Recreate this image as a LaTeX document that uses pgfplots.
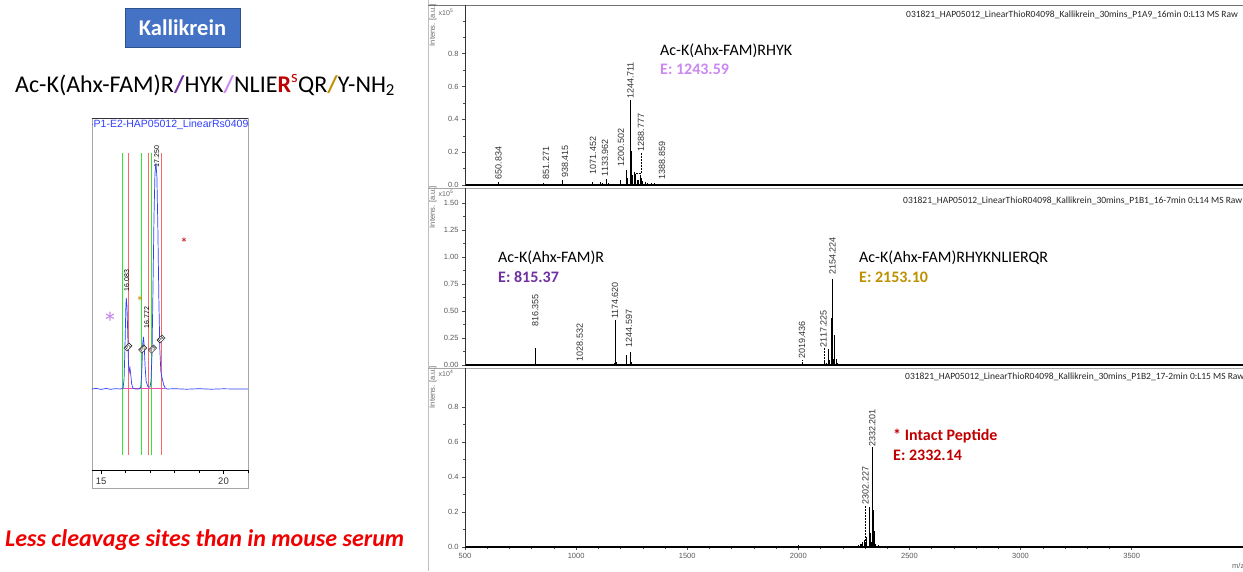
\documentclass[border=0pt]{standalone}
\usepackage{fontspec}
\setmainfont{Carlito}
\newfontfamily\tickfont{Liberation Sans}
\usepackage{pgfplots}
\pgfplotsset{compat=1.18}
\definecolor{kblue}{HTML}{4472C4}
\definecolor{kborder}{HTML}{2F528F}
\definecolor{purp}{HTML}{7030A0}
\definecolor{lvio}{RGB}{204,136,240}
\definecolor{gold}{HTML}{BF9000}
\definecolor{dred}{HTML}{C00000}
\definecolor{bred}{HTML}{F00000}
\definecolor{chromblue}{HTML}{2F3FFF}
\definecolor{lgreen}{HTML}{33E633}
\definecolor{lred}{HTML}{FF6666}

\pgfplotsset{ms/.style={
  anchor=south west, scale only axis, width=778pt,
  xmin=500, xmax=4001, ymin=0, clip=false,
  axis lines*=left,
  axis line style={black!80, line width=0.6pt},
  x axis line style={black, line width=1.3pt},
  tick align=outside, tick pos=left,
  major tick length=3pt, minor tick length=2pt,
  tick style={black!70, line width=0.5pt},
  ticklabel style={font=\fontsize{7.5}{8}\selectfont\tickfont, text=black!65},
  /pgf/number format/assume math mode=true,
  xtick=\empty,
}}
\newcommand{\pk}[2]{\node[rotate=90, anchor=west, inner sep=0.5pt, font=\fontsize{9}{9}\selectfont\tickfont, text=black!80] at (axis cs:#1) {#2};}

\begin{document}
\begin{tikzpicture}
\fill[white] (0,0) rectangle (1243pt,-571pt);
\path[use as bounding box] (0,0) rectangle (1243pt,-571pt);

% ---------------- left part
\node[fill=kblue, draw=kborder, line width=0.8pt, minimum width=115pt, minimum height=39pt,
      text=white, font=\bfseries\fontsize{22.5}{24}\selectfont] at (182.5pt,-27.5pt) {Kallikrein};
\node[anchor=base west, inner sep=0pt, font=\fontsize{24}{28}\selectfont] at (15pt,-92pt)
 {Ac-K(Ahx-FAM)R{\color{purp}\textbf{/}}HYK{\color{lvio}\textbf{/}}NLIE{\color{dred}\textbf{R}\textsuperscript{s}}QR{\color{gold}\textbf{/}}Y-NH\textsubscript{2}};
\node[anchor=base west, inner sep=0pt, text=bred, font=\bfseries\itshape\fontsize{24}{28}\selectfont] at (5pt,-546pt)
 {Less cleavage sites than in mouse serum};

% chromatogram box
\draw[black!35, line width=0.6pt] (92pt,-118pt) rectangle (248pt,-488pt);
\draw[black!80, line width=1pt] (92pt,-118pt) -- (248pt,-118pt);
\begin{scope}
\clip (92pt,-118pt) rectangle (248pt,-131pt);
\node[anchor=west, inner sep=0pt, text=chromblue, font=\fontsize{10.5}{10.5}\selectfont\tickfont] at (90pt,-124.5pt) {-P1-E2-HAP05012\_LinearRs04098\_Kallikrein};
\end{scope}

\begin{axis}[at={(92pt,-470pt)}, anchor=south west, scale only axis, width=156pt, height=340pt,
  xmin=14.63, xmax=21, ymin=-81, ymax=259, clip=false,
  axis x line*=bottom, axis y line=none,
  x axis line style={black, line width=1pt},
  xtick={15,20}, minor xtick={16,17,18,19,21},
  tick align=outside, major tick length=4pt, minor tick length=3pt,
  tick style={black, line width=0.5pt},
  xticklabel style={font=\fontsize{9.5}{9.5}\selectfont\tickfont, text=black!80},
  /pgf/number format/assume math mode=true]
\addplot[lgreen, line width=0.9pt] coordinates {(15.87,-66)(15.87,236)};
\addplot[lgreen, line width=0.9pt] coordinates {(16.64,-66)(16.64,236)};
\addplot[lgreen, line width=0.9pt] coordinates {(17.05,-66)(17.05,236)};
\addplot[lred, line width=0.9pt] coordinates {(16.13,-66)(16.13,236)};
\addplot[lred, line width=0.9pt] coordinates {(16.94,-66)(16.94,236)};
\addplot[lred, line width=0.9pt] coordinates {(17.45,-66)(17.45,236)};
\addplot[magenta!70, line width=0.7pt] coordinates {(15.88,1)(17.62,1)};
\addplot[chromblue, line width=0.7pt] coordinates {
(14.63,0)(14.8,0.6)(15.0,-0.4)(15.2,0.5)(15.4,-0.3)(15.6,0.4)(15.8,0)(15.9,1)(15.94,10)(15.98,45)(16.01,80)(16.03,91)(16.06,82)(16.09,55)(16.12,25)(16.15,17)(16.18,21)(16.21,15)(16.25,5)(16.3,1)(16.4,0)(16.55,0)(16.62,2)(16.66,15)(16.7,45)(16.73,52)(16.76,44)(16.8,22)(16.84,8)(16.9,3)(16.95,2)(17.0,2)(17.04,8)(17.08,35)(17.12,100)(17.16,170)(17.2,215)(17.24,226)(17.28,212)(17.32,160)(17.36,90)(17.4,40)(17.44,18)(17.48,12)(17.52,8)(17.56,4)(17.62,1)(17.7,0)(18,0.3)(18.5,-0.2)(19,0.3)(19.5,-0.2)(20,0.2)(20.5,0)(21,0)};
\node[rotate=90, anchor=west, inner sep=0.3pt, font=\fontsize{7}{7}\selectfont\tickfont] at (axis cs:16.05,97) {16.083};
\node[rotate=90, anchor=west, inner sep=0.3pt, font=\fontsize{7}{7}\selectfont\tickfont] at (axis cs:17.27,221) {17.250};
\node[rotate=90, anchor=west, inner sep=0.3pt, font=\fontsize{7}{7}\selectfont\tickfont] at (axis cs:16.86,60) {16.772};
\node[rotate=45, draw, fill=white, inner sep=0.5pt, font=\fontsize{5}{5}\selectfont\tickfont] at (axis cs:16.1,42) {P1};
\node[rotate=45, draw, fill=white, inner sep=0.5pt, font=\fontsize{5}{5}\selectfont\tickfont] at (axis cs:16.7,40) {P2};
\node[rotate=45, draw, fill=white, inner sep=0.5pt, font=\fontsize{5}{5}\selectfont\tickfont] at (axis cs:17.1,40) {P3};
\node[rotate=45, draw, fill=white, inner sep=0.5pt, font=\fontsize{5}{5}\selectfont\tickfont] at (axis cs:17.45,50) {P4};
\end{axis}
\node[text=lvio, font=\fontsize{30}{30}\selectfont] at (110pt,-323pt) {*};
\node[text=gold, font=\fontsize{16}{16}\selectfont] at (140pt,-302pt) {*};
\node[text=dred, font=\fontsize{15}{15}\selectfont] at (184pt,-243pt) {*};

% ---------------- right part frame
\draw[black!25, line width=0.8pt] (428pt,0pt) -- (428pt,-571pt);
\draw[black!55, line width=0.8pt] (428pt,-5pt) -- (1243pt,-5pt);
\draw[black!35, line width=0.8pt] (428pt,-188pt) -- (1243pt,-188pt);
\draw[black!35, line width=0.8pt] (428pt,-368pt) -- (1243pt,-368pt);

% ---------------- top MS panel
\begin{axis}[ms, at={(465pt,-185pt)}, height=180pt, ymax=1.097,
  ytick={0,0.2,0.4,0.6,0.8}, minor ytick={0.1,0.3,0.5,0.7,0.9,1.0},
  yticklabel style={/pgf/number format/.cd, fixed, fixed zerofill, precision=1}]
\addplot[ycomb, black, line width=0.6pt] coordinates {
(520,0.008)(540,0.006)(560,0.009)(580,0.007)(600,0.006)(620,0.008)(650.834,0.018)(680,0.006)(700,0.007)(720,0.005)(760,0.006)(800,0.005)(851.271,0.015)(880,0.006)(900,0.007)(938.415,0.03)(1000,0.006)(1040,0.006)(1071.452,0.018)(1110,0.02)(1120,0.012)(1133.962,0.035)(1145,0.015)(1160,0.008)(1200.502,0.03)(1226,0.09)(1231,0.04)(1244.711,0.50)(1248,0.21)(1252,0.06)(1262,0.08)(1268,0.07)(1276,0.03)(1282,0.03)(1288.777,0.06)(1292,0.04)(1300,0.025)(1310,0.02)(1320,0.012)(1340,0.015)(1350,0.01)(1388.859,0.006)(1420,0.004)(1460,0.005)(1500,0.004)(1550,0.004)(1570,0.003)};
\addplot[densely dotted, black, line width=0.5pt] coordinates {(1244.711,0.50)(1244.711,0.52)};
\addplot[densely dotted, black, line width=0.5pt] coordinates {(1268,0.07)(1292,0.07)(1292,0.2)};
\pk{650.834,0.03}{650.834}
\pk{865,0.03}{851.271}
\pk{950,0.04}{938.415}
\pk{1076,0.06}{1071.452}
\pk{1130,0.05}{1133.962}
\pk{1202,0.11}{1200.502}
\pk{1244.711,0.52}{1244.711}
\pk{1292,0.2}{1288.777}
\pk{1387,0.03}{1388.859}
\end{axis}
\node[rotate=90, anchor=east, inner sep=0pt, font=\fontsize{7.5}{8}\selectfont\tickfont, text=black!60] at (433pt,-4pt) {Intens. [a.u.]};
\node[inner sep=0pt, font=\fontsize{7}{8}\selectfont\tickfont, text=black!60] at (446pt,-12pt) {x10\textsuperscript{5}};
\node[anchor=west, inner sep=0pt, font=\fontsize{9.5}{10}\selectfont, text=black!85] at (906pt,-15pt) {031821\_HAP05012\_LinearThioR04098\_Kallikrein\_30mins\_P1A9\_16min 0:L13 MS Raw};
\node[anchor=base west, inner sep=0pt, font=\fontsize{16}{18}\selectfont] at (660pt,-55pt) {Ac-K(Ahx-FAM)RHYK};
\node[anchor=base west, inner sep=0pt, text=lvio, font=\bfseries\fontsize{16}{18}\selectfont] at (660pt,-74pt) {E: 1243.59};

% ---------------- middle MS panel
\begin{axis}[ms, at={(465pt,-365pt)}, height=177pt, ymax=1.64,
  ytick={0,0.25,0.5,0.75,1.0,1.25,1.5}, minor y tick num=1,
  yticklabel style={/pgf/number format/.cd, fixed, fixed zerofill, precision=2}]
\addplot[ycomb, black, line width=0.6pt] coordinates {
(816.355,0.16)(1028.532,0.005)(1071,0.006)(1157,0.01)(1170,0.02)(1174.620,0.42)(1180,0.03)(1224.5,0.09)(1244.597,0.12)(1248,0.03)(2019.436,0.012)(2100,0.008)(2110,0.01)(2117.225,0.03)(2125,0.02)(2134,0.15)(2138,0.05)(2150,0.44)(2154.224,0.80)(2158,0.06)(2163,0.28)(2170,0.06)(2175,0.02)};
\addplot[densely dotted, black, line width=0.5pt] coordinates {(2117.225,0.03)(2117.225,0.16)};
\addplot[densely dotted, black, line width=0.5pt] coordinates {(2019.436,0.012)(2019.436,0.05)};
\pk{816.355,0.35}{816.355}
\pk{1017,0.03}{1028.532}
\pk{1174.620,0.42}{1174.620}
\pk{1238,0.16}{1244.597}
\pk{2017,0.05}{2019.436}
\pk{2113,0.16}{2117.225}
\pk{2154.224,0.83}{2154.224}
\end{axis}
\node[rotate=90, anchor=east, inner sep=0pt, font=\fontsize{7.5}{8}\selectfont\tickfont, text=black!60] at (433pt,-186pt) {Intens. [a.u.]};
\node[inner sep=0pt, font=\fontsize{7}{8}\selectfont\tickfont, text=black!60] at (446pt,-193pt) {x10\textsuperscript{5}};
\node[anchor=west, inner sep=0pt, font=\fontsize{9.5}{10}\selectfont, text=black!85] at (903pt,-201pt) {031821\_HAP05012\_LinearThioR04098\_Kallikrein\_30mins\_P1B1\_16-7min 0:L14 MS Raw};
\node[anchor=base west, inner sep=0pt, font=\fontsize{16}{18}\selectfont] at (498pt,-262pt) {Ac-K(Ahx-FAM)R};
\node[anchor=base west, inner sep=0pt, text=purp, font=\bfseries\fontsize{16}{18}\selectfont] at (498pt,-282pt) {E: 815.37};
\node[anchor=base west, inner sep=0pt, font=\fontsize{16}{18}\selectfont] at (859pt,-262pt) {Ac-K(Ahx-FAM)RHYKNLIERQR};
\node[anchor=base west, inner sep=0pt, text=gold, font=\bfseries\fontsize{16}{18}\selectfont] at (859pt,-282pt) {E: 2153.10};

% ---------------- bottom MS panel
\begin{axis}[ms, at={(465pt,-547pt)}, height=179pt, ymax=1.023,
  ytick={0,0.2,0.4,0.6,0.8}, minor y tick num=1,
  yticklabel style={/pgf/number format/.cd, fixed, fixed zerofill, precision=1},
  xtick={500,1000,1500,2000,2500,3000,3500}, minor x tick num=4,
  xticklabel style={/pgf/number format/1000 sep={}}]
\addplot[ycomb, black, line width=0.6pt] coordinates {
(1800,0.006)(1810,0.004)(2000,0.012)(2270,0.01)(2280,0.02)(2285,0.015)(2290,0.03)(2295,0.04)(2302.227,0.02)(2306,0.06)(2318,0.23)(2322,0.08)(2326,0.05)(2329,0.03)(2332.201,0.57)(2336,0.21)(2342,0.09)(2348,0.02)(2358,0.01)};
\addplot[densely dotted, black, line width=0.5pt] coordinates {(2302.227,0.02)(2302.227,0.24)};
\pk{2302.227,0.24}{2302.227}
\pk{2332.201,0.57}{2332.201}
\end{axis}
\node[rotate=90, anchor=east, inner sep=0pt, font=\fontsize{7.5}{8}\selectfont\tickfont, text=black!60] at (433pt,-366pt) {Intens. [a.u.]};
\node[inner sep=0pt, font=\fontsize{7}{8}\selectfont\tickfont, text=black!60] at (446pt,-373pt) {x10\textsuperscript{4}};
\node[anchor=west, inner sep=0pt, font=\fontsize{9.5}{10}\selectfont, text=black!85] at (905pt,-377pt) {031821\_HAP05012\_LinearThioR04098\_Kallikrein\_30mins\_P1B2\_17-2min 0:L15 MS Raw};
\node[anchor=base west, inner sep=0pt, text=dred, font=\bfseries\fontsize{16}{18}\selectfont] at (893pt,-440pt) {* Intact Peptide};
\node[anchor=base west, inner sep=0pt, text=dred, font=\bfseries\fontsize{16}{18}\selectfont] at (893pt,-460pt) {E: 2332.14};
\node[anchor=west, inner sep=0pt, font=\fontsize{7.5}{8}\selectfont\tickfont, text=black!60] at (1232pt,-566pt) {m/z};
\end{tikzpicture}
\end{document}
